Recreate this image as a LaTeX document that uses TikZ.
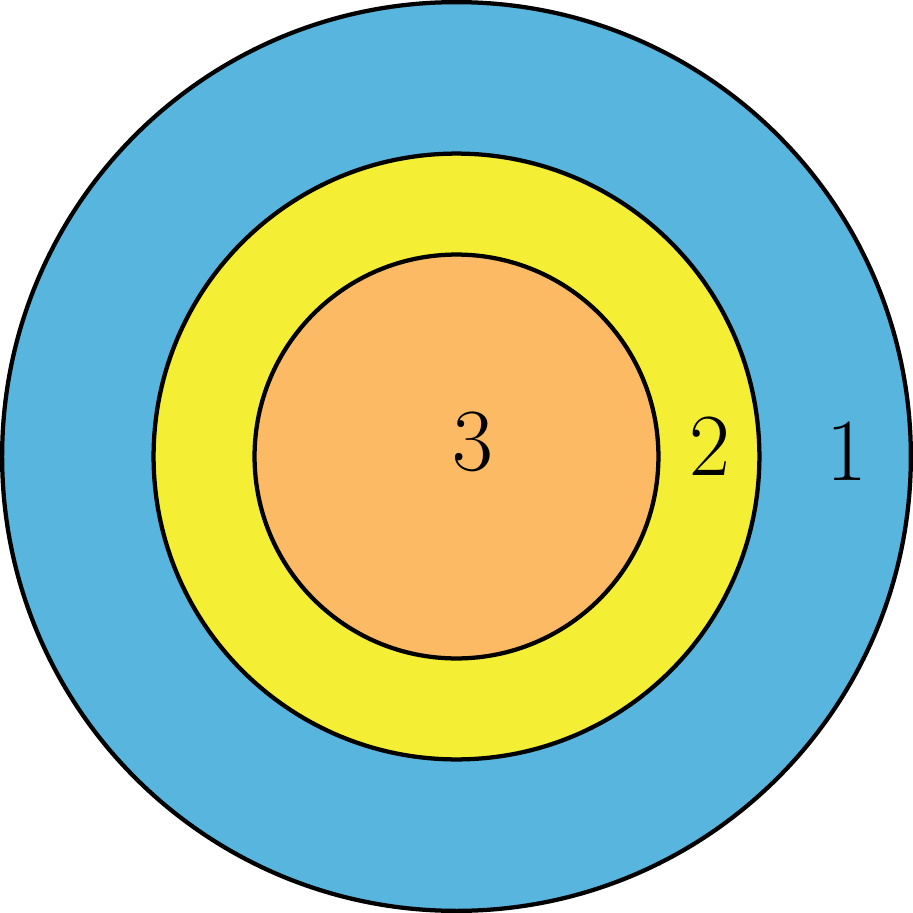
\documentclass[tikz,border=0pt]{standalone}
\definecolor{ringblue}{RGB}{87,181,222}
\definecolor{ringyellow}{RGB}{244,238,52}
\definecolor{ringorange}{RGB}{252,186,100}
\tikzset{ring/.style={circle,draw,very thick,inner sep=0pt},
  lbl/.style={font=\fontsize{25}{30}\selectfont}}
\begin{document}
\begin{tikzpicture}
                \useasboundingbox (-4.521,-4.521) rectangle (4.521,4.521);
                \path (0,0) node[ring,fill=ringblue,minimum size=9cm] (R1) {};
                \path (0,0) node[ring,fill=ringyellow,minimum size=6cm] (R2) {};
                \path (0,0) node[ring,fill=ringorange,minimum size=4cm] (R3) {};

                \path (0.16,0.14) node[lbl] (L3) {3};
                \path (2.51,0.10) node[lbl] (L2) {2};
                \path (3.87,0.055) node[lbl] (L1) {1};
              \end{tikzpicture}
\end{document}
